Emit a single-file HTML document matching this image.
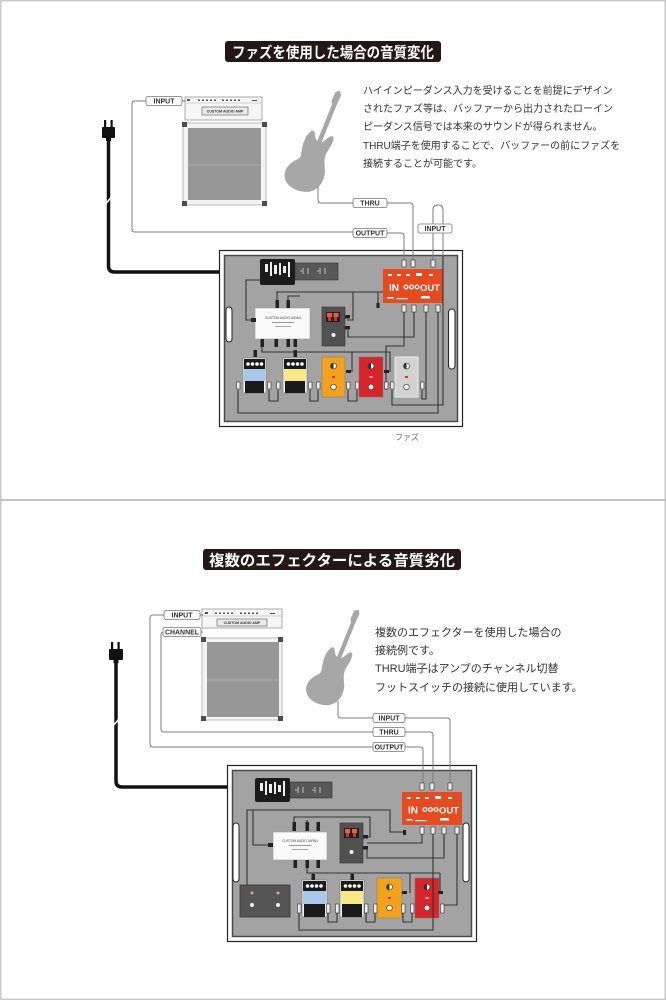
<!DOCTYPE html>
<html><head><meta charset="utf-8"><style>
html,body{margin:0;padding:0;background:#fff;width:666px;height:1000px;overflow:hidden}
svg{display:block}
text{font-family:"Liberation Sans","Noto Sans CJK JP",sans-serif}
</style></head><body>
<svg xmlns="http://www.w3.org/2000/svg" width="666" height="1000" viewBox="0 0 666 1000">
<rect width="666" height="1000" fill="#fff"/>
<rect x="0.75" y="0.75" width="664.5" height="998.5" fill="none" stroke="#c8c8c8" stroke-width="1.5"/>
<line x1="0" y1="500" x2="666" y2="500" stroke="#c2c2c2" stroke-width="2"/>

<!-- ================= TOP ================= -->
<rect x="225" y="41" width="216" height="21" rx="3" fill="#231815"/>
<text x="232" y="57.5" font-size="15" font-weight="bold" fill="#fff" textLength="202" lengthAdjust="spacingAndGlyphs">ファズを使用した場合の音質変化</text>

<g font-size="10" fill="#333">
<text x="363" y="94">ハイインピーダンス入力を受けることを前提にデザイン</text>
<text x="363" y="112">されたファズ等は、バッファーから出力されたローイン</text>
<text x="363" y="130">ピーダンス信号では本来のサウンドが得られません。</text>
<text x="363" y="149">THRU端子を使用することで、バッファーの前にファズを</text>
<text x="363" y="167">接続することが可能です。</text>
</g>

<!-- power plug + cable top -->
<rect x="104" y="120" width="2.2" height="8" fill="#111"/>
<rect x="110.5" y="120" width="2.2" height="8" fill="#111"/>
<rect x="102" y="127" width="13" height="11" rx="1" fill="#111"/>
<rect x="106" y="137" width="5" height="4" fill="#111"/>
<path d="M108.5,140 V266 Q108.5,272 114.5,272 H262" fill="none" stroke="#111" stroke-width="3.5"/>
<line x1="105.5" y1="204" x2="111.5" y2="197" stroke="#fff" stroke-width="1.6"/>

<!-- amp top -->
<rect x="185" y="97" width="77" height="23" fill="#f6f6f6" stroke="#999" stroke-width=".8"/>
<line x1="186" y1="103" x2="261" y2="103" stroke="#aaa" stroke-width=".5"/>
<g fill="#555">
<rect x="187" y="99" width="3" height="2"/>
<rect x="198" y="99.5" width="2" height="1.5"/><rect x="202" y="99.5" width="2" height="1.5"/><rect x="206" y="99.5" width="2" height="1.5"/><rect x="210" y="99.5" width="2" height="1.5"/><rect x="214" y="99.5" width="2" height="1.5"/>
<rect x="222" y="99.5" width="2" height="1.5"/><rect x="226" y="99.5" width="2" height="1.5"/><rect x="230" y="99.5" width="2" height="1.5"/><rect x="234" y="99.5" width="2" height="1.5"/><rect x="238" y="99.5" width="2" height="1.5"/>
<rect x="252" y="100" width="5" height="1"/>
</g>
<rect x="202" y="107" width="46" height="8" fill="#eaeaea" stroke="#555" stroke-width=".6"/>
<text x="225" y="112.6" font-size="3.6" font-weight="bold" fill="#333" text-anchor="middle">CUSTOM AUDIO AMP</text>
<rect x="183" y="123" width="83" height="82" fill="#f3f3f3" stroke="#aaa" stroke-width=".8"/>
<rect x="188" y="128" width="73" height="72" fill="#979797"/>
<line x1="188" y1="165" x2="261" y2="165" stroke="#b3b3b3" stroke-width=".8"/>
<g fill="#4d4d4d">
<rect x="182" y="122" width="5" height="5"/><rect x="262" y="122" width="5" height="5"/>
<rect x="182" y="201" width="5" height="5"/><rect x="262" y="201" width="5" height="5"/>
</g>

<!-- guitar top -->
<path transform="translate(312,160) rotate(22) scale(0.9)" fill="#a7a7a7" d="M-2.5,-22 L-2.5,-66 L-4.5,-69 L-4,-80 L0,-83 L3,-79 L2.5,-66 L2.5,-22 C5,-24 8,-33 11,-33 C14.5,-33 14.5,-24 12.5,-16 C10.5,-8 14,-2 18,6 C22,17 19,30 8,35 C-4,40 -18,37 -22,27 C-25,18 -20,10 -15,5 C-11,1 -16,-6 -16,-16 C-16,-27 -12,-33 -9,-30 C-7,-27 -5,-22 -2.5,-22 Z"/>

<!-- board top -->
<rect x="219.5" y="250.5" width="243" height="176" fill="#fff" stroke="#222" stroke-width="1.2"/>
<rect x="224.5" y="255.5" width="233" height="166" fill="#a3a3a3" stroke="#4a4a4a" stroke-width="1.5"/>
<rect x="226" y="307" width="6" height="35" rx="3" fill="#fff" stroke="#222" stroke-width="1"/>
<rect x="448.5" y="309" width="6.5" height="60" rx="3.2" fill="#fff" stroke="#222" stroke-width="1"/>

<!-- outside connector lines top -->
<g fill="none" stroke="#7d7d7d" stroke-width="1">
<path d="M146,101 H135 Q132,101 132,104 V229 Q132,232 135,232 H353"/>
<path d="M182,101 H186"/>
<path d="M387,233 H401 Q404,233 404,236 V261"/>
<path d="M318,186 V200 Q318,203 321,203 H353"/>
<path d="M387,203 H410 Q413,203 413,206 V261"/>
<path d="M433,261 V210 Q433,205 438,205 Q443,205 443,210 V256"/>
</g>
<g font-size="7" font-weight="bold" fill="#333" text-anchor="middle">
<rect x="146" y="96.5" width="36" height="9" rx="2" fill="#fff" stroke="#777" stroke-width=".8"/>
<text x="164" y="103.6">INPUT</text>
<rect x="353" y="228.5" width="34" height="9" rx="2" fill="#fff" stroke="#777" stroke-width=".8"/>
<text x="370" y="235.6">OUTPUT</text>
<rect x="353" y="198.5" width="34" height="9" rx="2" fill="#fff" stroke="#777" stroke-width=".8"/>
<text x="370" y="205.6">THRU</text>
<rect x="418" y="224" width="34" height="9" rx="2" fill="#fff" stroke="#777" stroke-width=".8"/>
<text x="435" y="231.1">INPUT</text>
</g>

<!-- adapter & outlet strip -->
<rect x="260" y="259" width="35" height="26" rx="2" fill="#1b1b1b"/>
<g fill="#eee">
<rect x="265" y="264" width="3" height="8"/><rect x="270" y="262" width="2" height="14"/><rect x="274" y="265" width="3" height="9"/><rect x="279" y="263" width="2" height="12"/><rect x="283" y="266" width="3" height="7"/><rect x="288" y="262" width="2" height="15"/>
</g>
<rect x="295" y="263" width="43" height="17" fill="#585858" stroke="#333" stroke-width=".6"/>
<g fill="none" stroke="#ddd" stroke-width=".8">
<path d="M303,268 v6 M308,268 v6 M300,271 h2"/>
<path d="M320,268 v6 M325,268 v6 M317,271 h2"/>
</g>

<!-- red buffer top -->
<rect x="383" y="269" width="60" height="34" fill="#e64a1e"/>
<g fill="#fff">
<rect x="388" y="274" width="4" height="2"/><rect x="397" y="274" width="4" height="2"/><rect x="406" y="274" width="4" height="2"/><rect x="416" y="273" width="6" height="3"/><rect x="429" y="274" width="4" height="2"/>
<rect x="387" y="297" width="7" height="1.5"/><rect x="396" y="298" width="12" height="1.2"/><rect x="421" y="296" width="9" height="2.5"/>
<circle cx="406" cy="287" r="2.5"/><circle cx="411.5" cy="287" r="2.5"/><circle cx="417" cy="287" r="2.5"/>
</g>
<g fill="#e64a1e"><circle cx="406" cy="287" r="1.2"/><circle cx="411.5" cy="287" r="1.2"/><circle cx="417" cy="287" r="1.2"/></g>
<text x="389" y="291" font-size="10" font-weight="bold" fill="#fff">IN</text>
<text x="420" y="291" font-size="9.5" font-weight="bold" fill="#fff" textLength="20" lengthAdjust="spacingAndGlyphs">OUT</text>

<!-- white buffer box top -->
<rect x="255" y="308" width="55" height="31" fill="#fafafa" stroke="#999" stroke-width=".6"/>
<text x="283" y="319" font-size="3.2" fill="#444" text-anchor="middle">CUSTOM AUDIO JAPAN</text>
<rect x="272" y="322" width="22" height="1" fill="#999"/><rect x="275" y="326" width="16" height="1" fill="#aaa"/>

<!-- dark pedal top -->
<rect x="322" y="307" width="23" height="39" fill="#515151" stroke="#333" stroke-width=".6"/>
<rect x="326" y="312" width="14" height="10" fill="#222"/>
<rect x="327" y="313" width="5" height="4" fill="#e9622a"/><rect x="333.5" y="313" width="5" height="4" fill="#e9622a"/>
<rect x="328" y="317" width="3" height="4" fill="#c33"/><rect x="334" y="317" width="3" height="4" fill="#c33"/>
<circle cx="333.5" cy="335" r="2" fill="#eee"/>

<!-- pedals top -->
<g>
<rect x="243" y="358" width="23" height="35" fill="#eee" stroke="#666" stroke-width=".5"/>
<rect x="244" y="359" width="21" height="10" fill="#1a1a1a"/>
<rect x="244" y="369" width="21" height="12" fill="#a9c7ea"/>
<rect x="245" y="381" width="19" height="12" fill="#1a1a1a"/>
<g fill="#fff"><circle cx="248" cy="364" r="1.8"/><circle cx="252.5" cy="364" r="1.8"/><circle cx="257" cy="364" r="1.8"/><circle cx="261.5" cy="364" r="1.8"/></g>
</g>
<g>
<rect x="283" y="358" width="24" height="35" fill="#eee" stroke="#666" stroke-width=".5"/>
<rect x="284" y="359" width="22" height="10" fill="#1a1a1a"/>
<rect x="284" y="369" width="22" height="12" fill="#f7ea86"/>
<rect x="285" y="381" width="20" height="12" fill="#1a1a1a"/>
<g fill="#fff"><circle cx="288.5" cy="364" r="1.8"/><circle cx="293" cy="364" r="1.8"/><circle cx="297.5" cy="364" r="1.8"/><circle cx="302" cy="364" r="1.8"/></g>
</g>
<g>
<rect x="322" y="357" width="23" height="40" fill="#f4a21c" stroke="#777" stroke-width=".5"/>
<circle cx="333.5" cy="366" r="3" fill="#fff" stroke="#333" stroke-width=".6"/><path d="M333.5,363 a3,3 0 0 0 0,6 z" fill="#333"/>
<rect x="332" y="376" width="3" height="2" fill="#d33"/>
<circle cx="333.5" cy="387" r="2.8" fill="#eee" stroke="#333" stroke-width=".6"/>
</g>
<g>
<rect x="359" y="357" width="24" height="40" fill="#d8232a" stroke="#777" stroke-width=".5"/>
<circle cx="371" cy="366" r="3" fill="#fff" stroke="#333" stroke-width=".6"/><path d="M371,363 a3,3 0 0 0 0,6 z" fill="#333"/>
<rect x="369.5" y="376" width="3" height="2" fill="#fbb"/>
<circle cx="371" cy="387" r="2.8" fill="#eee" stroke="#333" stroke-width=".6"/>
</g>
<g>
<rect x="395" y="357" width="23" height="40" fill="#d2d2d2" stroke="#eee" stroke-width="1"/>
<circle cx="406.5" cy="366" r="3" fill="#fff" stroke="#333" stroke-width=".6"/><path d="M406.5,363 a3,3 0 0 0 0,6 z" fill="#333"/>
<rect x="405" y="376" width="3" height="2" fill="#d33"/>
<circle cx="406.5" cy="387" r="2.8" fill="#eee" stroke="#333" stroke-width=".6"/>
</g>

<!-- on-board cables top -->
<g fill="none" stroke="#333" stroke-width="1.1">
<path d="M260,280 H246 V320 H255"/>
<path d="M277,303 V292 H383"/>
<path d="M353,292 V320 H347"/>
<path d="M378,292 V305"/>
<path d="M288,303 V296 H300"/>
<path d="M443,256 V405 H392 V390"/>
<path d="M404,312 V346 H386 V390"/>
<path d="M414,312 V337 H348 V330"/>
<path d="M426,312 V399 H422 V390"/>
<path d="M438,312 V413 H238 V390"/>
<path d="M269,390 V401 H278 V390"/>
<path d="M310,390 V401 H318 V390"/>
<path d="M348,390 V401 H357 V390"/>
<path d="M262,347 V352 H390 V372"/>
<path d="M255,352 V357"/><path d="M295,352 V357"/>
<path d="M352,352 V372"/>
</g>
<g fill="#222">
<rect x="275.5" y="300" width="3.5" height="8"/><rect x="286.5" y="300" width="3.5" height="8"/>
<rect x="260.5" y="339" width="3.5" height="8"/><rect x="274.5" y="339" width="3.5" height="8"/><rect x="286.5" y="339" width="3.5" height="8"/><rect x="293.5" y="339" width="3.5" height="8"/>
<rect x="253.5" y="350" width="3.5" height="7"/><rect x="293.5" y="350" width="3.5" height="7"/>
<rect x="345" y="315" width="5" height="3.5"/><rect x="345" y="326" width="5" height="3.5"/>
<rect x="346" y="370" width="5" height="3"/><rect x="384" y="370" width="5" height="3"/>
<rect x="376.5" y="303" width="3" height="5"/>
<rect x="251" y="318" width="5" height="4"/>
</g>
<g fill="#ececec" stroke="#333" stroke-width=".6">
<rect x="402" y="260" width="4" height="7"/><rect x="411" y="260" width="4" height="7"/><rect x="431" y="260" width="4" height="7"/>
<rect x="402" y="305" width="4" height="7"/><rect x="412" y="305" width="4" height="7"/><rect x="424" y="305" width="4" height="7"/><rect x="436" y="305" width="4" height="7"/>
<rect x="236.5" y="382" width="3.5" height="7"/><rect x="267.5" y="382" width="3.5" height="7"/>
<rect x="276.5" y="382" width="3.5" height="7"/><rect x="308.5" y="382" width="3.5" height="7"/>
<rect x="316.5" y="382" width="3.5" height="7"/><rect x="346.5" y="382" width="3.5" height="7"/>
<rect x="355.5" y="382" width="3.5" height="7"/><rect x="384.5" y="382" width="3.5" height="7"/>
<rect x="390.5" y="382" width="3.5" height="7"/><rect x="420.5" y="382" width="3.5" height="7"/>
</g>
<text x="395" y="440" font-size="8" fill="#666">ファズ</text>

<!-- ================= BOTTOM ================= -->
<rect x="203" y="549" width="258" height="21" rx="3" fill="#231815"/>
<text x="209" y="565.5" font-size="15" font-weight="bold" fill="#fff" textLength="246" lengthAdjust="spacingAndGlyphs">複数のエフェクターによる音質劣化</text>

<g font-size="11" fill="#333">
<text x="375" y="636">複数のエフェクターを使用した場合の</text>
<text x="375" y="654">接続例です。</text>
<text x="375" y="672">THRU端子はアンプのチャンネル切替</text>
<text x="375" y="691">フットスイッチの接続に使用しています。</text>
</g>

<!-- plug bottom -->
<rect x="111" y="642" width="2.2" height="8" fill="#111"/>
<rect x="117.5" y="642" width="2.2" height="8" fill="#111"/>
<rect x="109" y="649" width="14" height="11" rx="1" fill="#111"/>
<rect x="113.5" y="659" width="5" height="4" fill="#111"/>
<path d="M116,662 V781 Q116,787 122,787 H257" fill="none" stroke="#111" stroke-width="3.5"/>
<line x1="113" y1="726" x2="119" y2="719" stroke="#fff" stroke-width="1.6"/>

<!-- amp bottom -->
<rect x="202" y="609" width="80" height="19" fill="#f6f6f6" stroke="#999" stroke-width=".8"/>
<line x1="203" y1="616" x2="281" y2="616" stroke="#aaa" stroke-width=".5"/>
<g fill="#555">
<rect x="205" y="612" width="3" height="2"/>
<rect x="215" y="612.5" width="2" height="1.5"/><rect x="219" y="612.5" width="2" height="1.5"/><rect x="223" y="612.5" width="2" height="1.5"/><rect x="227" y="612.5" width="2" height="1.5"/><rect x="231" y="612.5" width="2" height="1.5"/>
<rect x="240" y="612.5" width="2" height="1.5"/><rect x="244" y="612.5" width="2" height="1.5"/><rect x="248" y="612.5" width="2" height="1.5"/><rect x="252" y="612.5" width="2" height="1.5"/><rect x="256" y="612.5" width="2" height="1.5"/>
<rect x="270" y="613" width="5" height="1"/>
</g>
<rect x="217" y="619" width="50" height="7" fill="#eaeaea" stroke="#555" stroke-width=".6"/>
<text x="242" y="624" font-size="3.6" font-weight="bold" fill="#333" text-anchor="middle">CUSTOM AUDIO AMP</text>
<rect x="202" y="638" width="80" height="82" fill="#f3f3f3" stroke="#aaa" stroke-width=".8"/>
<rect x="207" y="642" width="72" height="75" fill="#979797"/>
<line x1="207" y1="680" x2="279" y2="680" stroke="#b3b3b3" stroke-width=".8"/>
<g fill="#4d4d4d">
<rect x="201" y="637" width="5" height="5"/><rect x="278" y="637" width="5" height="5"/>
<rect x="201" y="716" width="5" height="5"/><rect x="278" y="716" width="5" height="5"/>
</g>

<!-- guitar bottom -->
<path transform="translate(332,675) rotate(22) scale(0.85)" fill="#a7a7a7" d="M-2.5,-22 L-2.5,-66 L-4.5,-69 L-4,-80 L0,-83 L3,-79 L2.5,-66 L2.5,-22 C5,-24 8,-33 11,-33 C14.5,-33 14.5,-24 12.5,-16 C10.5,-8 14,-2 18,6 C22,17 19,30 8,35 C-4,40 -18,37 -22,27 C-25,18 -20,10 -15,5 C-11,1 -16,-6 -16,-16 C-16,-27 -12,-33 -9,-30 C-7,-27 -5,-22 -2.5,-22 Z"/>

<!-- board bottom -->
<rect x="227.5" y="765.5" width="249" height="176" fill="#fff" stroke="#222" stroke-width="1.2"/>
<rect x="232.5" y="770.5" width="239" height="166" fill="#a3a3a3" stroke="#4a4a4a" stroke-width="1.5"/>
<rect x="233" y="823" width="6" height="59" rx="3" fill="#fff" stroke="#222" stroke-width="1"/>
<rect x="463" y="823" width="6" height="59" rx="3" fill="#fff" stroke="#222" stroke-width="1"/>

<!-- outside lines bottom -->
<g fill="none" stroke="#7d7d7d" stroke-width="1">
<path d="M164,615 H153 Q150,615 150,618 V744 Q150,747 153,747 H373"/>
<path d="M200,615 H203"/>
<path d="M164,632 H164 Q161,632 161,635 V729 Q161,732 164,732 H373"/>
<path d="M201,632 H203"/>
<path d="M338,701 V715 Q338,718 341,718 H373"/>
<path d="M405,718 H447 Q450,718 450,721 V786"/>
<path d="M405,732 H430 Q433,732 433,735 V786"/>
<path d="M405,747 H420 Q423,747 423,750 V786"/>
</g>
<g font-size="7" font-weight="bold" fill="#333" text-anchor="middle">
<rect x="164" y="610.5" width="36" height="9" rx="2" fill="#fff" stroke="#777" stroke-width=".8"/>
<text x="182" y="617.6">INPUT</text>
<rect x="163" y="627.5" width="38" height="9" rx="2" fill="#fff" stroke="#777" stroke-width=".8"/>
<text x="182" y="634.6" textLength="34" lengthAdjust="spacingAndGlyphs">CHANNEL</text>
<rect x="373" y="713.5" width="32" height="9" rx="2" fill="#fff" stroke="#777" stroke-width=".8"/>
<text x="389" y="720.6">INPUT</text>
<rect x="373" y="727.5" width="32" height="9" rx="2" fill="#fff" stroke="#777" stroke-width=".8"/>
<text x="389" y="734.6">THRU</text>
<rect x="373" y="742.5" width="32" height="9" rx="2" fill="#fff" stroke="#777" stroke-width=".8"/>
<text x="389" y="749.6">OUTPUT</text>
</g>

<!-- adapter & strip bottom -->
<rect x="255" y="778" width="35" height="24" rx="2" fill="#1b1b1b"/>
<g fill="#eee">
<rect x="260" y="783" width="3" height="8"/><rect x="265" y="781" width="2" height="14"/><rect x="269" y="784" width="3" height="9"/><rect x="274" y="782" width="2" height="12"/><rect x="278" y="785" width="3" height="7"/><rect x="283" y="781" width="2" height="15"/>
</g>
<rect x="290" y="782" width="42" height="16" fill="#585858" stroke="#333" stroke-width=".6"/>
<g fill="none" stroke="#ddd" stroke-width=".8">
<path d="M298,787 v6 M303,787 v6 M295,790 h2"/>
<path d="M315,787 v6 M320,787 v6 M312,790 h2"/>
</g>

<!-- red buffer bottom -->
<rect x="402" y="792" width="60" height="33" fill="#e64a1e"/>
<g fill="#fff">
<rect x="407" y="797" width="4" height="2"/><rect x="416" y="797" width="4" height="2"/><rect x="425" y="797" width="4" height="2"/><rect x="435" y="796" width="6" height="3"/><rect x="448" y="797" width="4" height="2"/>
<rect x="406" y="819" width="7" height="1.5"/><rect x="415" y="820" width="12" height="1.2"/><rect x="440" y="818" width="9" height="2.5"/>
<circle cx="425" cy="809.5" r="2.5"/><circle cx="430.5" cy="809.5" r="2.5"/><circle cx="436" cy="809.5" r="2.5"/>
</g>
<g fill="#e64a1e"><circle cx="425" cy="809.5" r="1.2"/><circle cx="430.5" cy="809.5" r="1.2"/><circle cx="436" cy="809.5" r="1.2"/></g>
<text x="408" y="813.5" font-size="10" font-weight="bold" fill="#fff">IN</text>
<text x="439" y="813.5" font-size="9.5" font-weight="bold" fill="#fff" textLength="20" lengthAdjust="spacingAndGlyphs">OUT</text>

<!-- white buffer bottom -->
<rect x="273" y="832" width="54" height="28" fill="#fafafa" stroke="#999" stroke-width=".6"/>
<text x="300" y="842" font-size="3.2" fill="#444" text-anchor="middle">CUSTOM AUDIO JAPAN</text>
<rect x="289" y="845" width="22" height="1" fill="#999"/><rect x="292" y="849" width="16" height="1" fill="#aaa"/>

<!-- dark pedal bottom -->
<rect x="340" y="823" width="23" height="40" fill="#515151" stroke="#333" stroke-width=".6"/>
<rect x="344" y="828" width="15" height="10" fill="#222"/>
<rect x="345" y="829" width="5" height="4" fill="#e9622a"/><rect x="352" y="829" width="5" height="4" fill="#e9622a"/>
<rect x="346" y="833" width="3" height="4" fill="#c33"/><rect x="353" y="833" width="3" height="4" fill="#c33"/>
<circle cx="351.5" cy="852" r="2" fill="#eee"/>

<!-- footswitch -->
<rect x="240" y="885" width="50" height="32" fill="#555" stroke="#333" stroke-width=".8"/>
<circle cx="252" cy="893" r="1.5" fill="#e99"/><circle cx="278" cy="893" r="1.5" fill="#e99"/>
<circle cx="252" cy="905" r="2" fill="#eee"/><circle cx="278" cy="905" r="2" fill="#eee"/>

<!-- pedals bottom -->
<g>
<rect x="302" y="880" width="25" height="37" fill="#eee" stroke="#666" stroke-width=".5"/>
<rect x="303" y="881" width="23" height="10" fill="#1a1a1a"/>
<rect x="303" y="891" width="23" height="13" fill="#a9c7ea"/>
<rect x="304" y="904" width="21" height="13" fill="#1a1a1a"/>
<g fill="#fff"><circle cx="307.5" cy="886" r="1.8"/><circle cx="312" cy="886" r="1.8"/><circle cx="316.5" cy="886" r="1.8"/><circle cx="321" cy="886" r="1.8"/></g>
</g>
<g>
<rect x="340" y="880" width="24" height="37" fill="#eee" stroke="#666" stroke-width=".5"/>
<rect x="341" y="881" width="22" height="10" fill="#1a1a1a"/>
<rect x="341" y="891" width="22" height="13" fill="#f7ea86"/>
<rect x="342" y="904" width="20" height="13" fill="#1a1a1a"/>
<g fill="#fff"><circle cx="345.5" cy="886" r="1.8"/><circle cx="350" cy="886" r="1.8"/><circle cx="354.5" cy="886" r="1.8"/><circle cx="359" cy="886" r="1.8"/></g>
</g>
<g>
<rect x="377" y="878" width="25" height="40" fill="#f4a21c" stroke="#777" stroke-width=".5"/>
<circle cx="389.5" cy="887" r="3" fill="#fff" stroke="#333" stroke-width=".6"/><path d="M389.5,884 a3,3 0 0 0 0,6 z" fill="#333"/>
<rect x="388" y="897" width="3" height="2" fill="#d33"/>
<circle cx="389.5" cy="908" r="2.8" fill="#eee" stroke="#333" stroke-width=".6"/>
</g>
<g>
<rect x="415" y="878" width="24" height="40" fill="#d8232a" stroke="#777" stroke-width=".5"/>
<circle cx="427" cy="887" r="3" fill="#fff" stroke="#333" stroke-width=".6"/><path d="M427,884 a3,3 0 0 0 0,6 z" fill="#333"/>
<rect x="425.5" y="897" width="3" height="2" fill="#fbb"/>
<circle cx="427" cy="908" r="2.8" fill="#eee" stroke="#333" stroke-width=".6"/>
</g>

<!-- on-board cables bottom -->
<g fill="none" stroke="#333" stroke-width="1.1">
<path d="M247,885 V810 H390 V832 H404"/>
<path d="M253,810 V845 H270"/>
<path d="M294,824 V817 H370 V837 H365"/>
<path d="M307,824 V820"/>
<path d="M422,834 V843 H367"/>
<path d="M444,834 V858 H367 V849"/>
<path d="M433,834 V930 H299 V913"/>
<path d="M457,834 V905 H444"/>
<path d="M328,913 V922 H337 V913"/>
<path d="M366,913 V922 H375 V913"/>
<path d="M403,913 V922 H412 V913"/>
<path d="M307,868 V873 H410 V893"/>
<path d="M313,873 V880"/><path d="M352,873 V880"/>
<path d="M440,873 V893"/><path d="M410,873 H440"/>
</g>
<g fill="#222">
<rect x="292.5" y="822" width="3.5" height="9"/><rect x="305.5" y="822" width="3.5" height="9"/><rect x="316.5" y="822" width="3.5" height="9"/>
<rect x="293.5" y="860" width="3.5" height="8"/><rect x="305.5" y="860" width="3.5" height="8"/><rect x="316.5" y="860" width="3.5" height="8"/>
<rect x="311.5" y="874" width="3.5" height="6"/><rect x="350.5" y="874" width="3.5" height="6"/>
<rect x="268" y="843" width="5" height="4"/>
<rect x="363" y="835" width="5" height="3.5"/><rect x="363" y="846" width="5" height="3.5"/>
<rect x="402" y="891" width="5" height="3"/><rect x="438" y="891" width="5" height="3"/>
<rect x="403" y="830" width="3" height="5"/>
</g>
<g fill="#ececec" stroke="#333" stroke-width=".6">
<rect x="420" y="783" width="4" height="7"/><rect x="430" y="783" width="4" height="7"/><rect x="448" y="783" width="4" height="7"/>
<rect x="420" y="827" width="4" height="7"/><rect x="431" y="827" width="4" height="7"/><rect x="442" y="827" width="4" height="7"/><rect x="455" y="827" width="4" height="7"/>
<rect x="297.5" y="904" width="3.5" height="9"/><rect x="326.5" y="904" width="3.5" height="9"/>
<rect x="335.5" y="904" width="3.5" height="9"/><rect x="364.5" y="904" width="3.5" height="9"/>
<rect x="373.5" y="904" width="3.5" height="9"/><rect x="401.5" y="904" width="3.5" height="9"/>
<rect x="410.5" y="904" width="3.5" height="9"/><rect x="440.5" y="904" width="3.5" height="9"/>
</g>
</svg>
</body></html>
